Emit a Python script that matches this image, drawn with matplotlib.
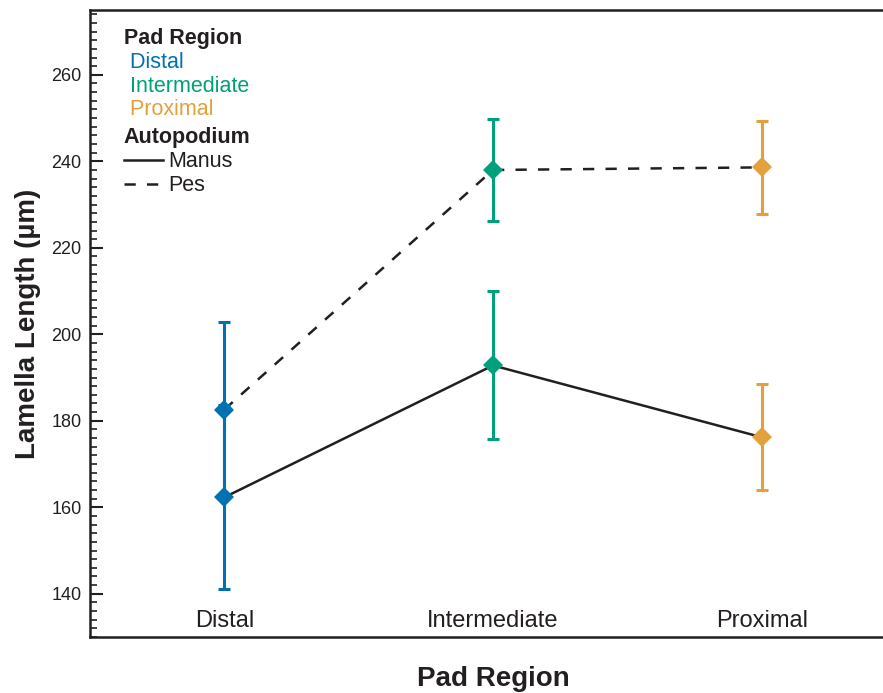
import matplotlib
matplotlib.use("Agg")
import matplotlib.pyplot as plt
from matplotlib.lines import Line2D
from matplotlib.ticker import MultipleLocator

plt.rcParams["font.family"] = ["Liberation Sans", "DejaVu Sans"]

regions = ["Distal", "Intermediate", "Proximal"]
region_colors = ["#0072b2", "#00a07a", "#e2a13c"]

manus_mean = [162.3, 192.8, 176.2]
manus_err = [21.3, 17.1, 12.2]
pes_mean = [182.6, 238.0, 238.6]
pes_err = [20.3, 11.8, 10.7]

ink = "#231f20"

fig = plt.figure(figsize=(8.83, 6.93), dpi=100)
ax = fig.add_axes([0.1019, 0.0808, 0.9128, 0.9048])

x = list(range(len(regions)))
ax.plot(x, manus_mean, color=ink, lw=1.8, ls="-", zorder=2)
ax.plot(x, pes_mean, color=ink, lw=1.8, ls=(0, (4.5, 4.5)), zorder=2)

for i, color in enumerate(region_colors):
    for mean, err in ((manus_mean, manus_err), (pes_mean, pes_err)):
        ax.errorbar(x[i], mean[i], yerr=err[i], fmt="none", ecolor=color,
                    elinewidth=2.2, capsize=4.5, capthick=2.2, zorder=3)
        ax.plot(x[i], mean[i], "D", color=color, ms=10, mew=0, zorder=4)

ax.set_xlim(-0.5, 2.5)
ax.set_ylim(130, 275)
ax.set_xticks(x, regions)
ax.yaxis.set_major_locator(MultipleLocator(20))
ax.yaxis.set_minor_locator(MultipleLocator(2))
ax.set_yticks(range(140, 261, 20))

ax.tick_params(axis="x", length=0, pad=-19.5, labelsize=17, colors=ink)
ax.tick_params(axis="y", which="major", direction="in", length=9.5, width=1.5,
               pad=6, labelsize=13, colors=ink)
ax.tick_params(axis="y", which="minor", direction="in", length=5, width=1.2,
               colors=ink)
for side in ("left", "bottom", "top"):
    ax.spines[side].set_linewidth(1.8)
    ax.spines[side].set_color(ink)
ax.spines["right"].set_visible(False)

ax.set_ylabel("Lamella Length (\u00b5m)", fontsize=20, fontweight="bold",
              color=ink, labelpad=7.5)
ax.set_xlabel("Pad Region", fontsize=20, fontweight="bold", color=ink,
              labelpad=21)

# legend: colour key for pad regions
blank = [Line2D([], [], lw=0) for _ in regions]
leg1 = ax.legend(blank, [" " + r for r in regions], loc="upper left",
                 bbox_to_anchor=(0.042, 0.9705), frameon=False, handlelength=0,
                 handletextpad=0, borderpad=0, borderaxespad=0,
                 labelspacing=0.12, fontsize=15.5, title="Pad Region",
                 title_fontproperties={"size": 15.5, "weight": "bold"},
                 alignment="left", labelcolor=region_colors)
leg1.get_title().set_color(ink)
ax.add_artist(leg1)

# legend: line style for autopodium
styles = [Line2D([], [], color=ink, lw=1.8, ls="-"),
          Line2D([], [], color=ink, lw=1.8, ls=(0, (4.5, 4.5)))]
leg2 = ax.legend(styles, ["Manus", "Pes"], loc="upper left",
                 bbox_to_anchor=(0.042, 0.8135), frameon=False,
                 handlelength=1.8, handletextpad=0.25, borderpad=0,
                 borderaxespad=0, labelspacing=0.15, fontsize=15.5,
                 title="Autopodium",
                 title_fontproperties={"size": 15.5, "weight": "bold"},
                 alignment="left", labelcolor=ink)
leg2.get_title().set_color(ink)

fig.savefig("out.png", dpi=100)
